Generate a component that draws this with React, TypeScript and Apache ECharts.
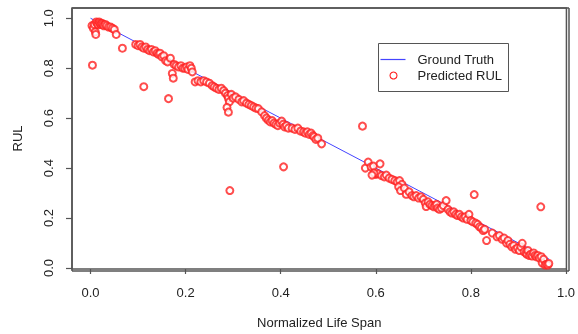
import React, { useEffect, useRef } from "react";
import * as echarts from "echarts";

const xTicks = [0, 0.2, 0.4, 0.6, 0.8, 1.0];
const yTicks = [0, 0.2, 0.4, 0.6, 0.8, 1.0];

const groundTruthX = [0, 0.965];
const groundTruthY = [1, 0.035];

const predicted: number[][] = [
  [0.003, 0.97], [0.006, 0.96], [0.008, 0.975], [0.010, 0.945], [0.011, 0.935], [0.012, 0.985], [0.014, 0.98],
  [0.016, 0.975], [0.018, 0.985], [0.020, 0.98], [0.022, 0.975], [0.024, 0.98], [0.026, 0.975], [0.028, 0.97],
  [0.031, 0.975], [0.034, 0.97], [0.038, 0.965], [0.042, 0.965], [0.046, 0.96], [0.050, 0.955], [0.054, 0.935],
  [0.004, 0.812], [0.067, 0.88],
  [0.095, 0.895], [0.100, 0.89], [0.104, 0.895], [0.108, 0.885], [0.112, 0.88], [0.116, 0.885], [0.120, 0.875],
  [0.124, 0.87], [0.128, 0.875], [0.132, 0.865], [0.136, 0.87], [0.140, 0.86], [0.143, 0.855], [0.146, 0.86],
  [0.150, 0.845], [0.154, 0.85], [0.158, 0.83], [0.162, 0.825], [0.112, 0.726], [0.164, 0.678], [0.172, 0.779],
  [0.174, 0.76], [0.168, 0.84],
  [0.176, 0.815], [0.180, 0.81], [0.185, 0.805], [0.190, 0.81], [0.194, 0.80], [0.198, 0.80], [0.202, 0.805],
  [0.205, 0.795], [0.209, 0.81], [0.212, 0.80], [0.214, 0.785],
  [0.220, 0.745], [0.226, 0.75], [0.232, 0.745], [0.238, 0.75], [0.244, 0.745], [0.250, 0.74], [0.256, 0.73],
  [0.260, 0.725], [0.265, 0.72], [0.270, 0.715], [0.275, 0.72], [0.280, 0.71], [0.284, 0.70], [0.288, 0.69],
  [0.290, 0.68], [0.292, 0.665], [0.287, 0.643], [0.290, 0.624], [0.296, 0.695], [0.293, 0.31],
  [0.300, 0.68], [0.305, 0.685], [0.312, 0.675], [0.318, 0.665], [0.322, 0.67], [0.328, 0.66], [0.333, 0.655],
  [0.338, 0.65], [0.343, 0.645], [0.348, 0.64], [0.353, 0.638], [0.360, 0.625], [0.366, 0.61], [0.370, 0.60],
  [0.374, 0.592], [0.378, 0.585], [0.382, 0.59], [0.386, 0.58], [0.390, 0.575], [0.394, 0.57], [0.398, 0.58],
  [0.402, 0.588], [0.405, 0.575], [0.408, 0.565], [0.412, 0.57], [0.416, 0.56], [0.406, 0.405],
  [0.424, 0.56], [0.430, 0.555], [0.436, 0.56], [0.442, 0.548], [0.448, 0.545], [0.452, 0.54], [0.456, 0.545],
  [0.460, 0.535], [0.464, 0.54], [0.468, 0.53], [0.470, 0.525], [0.474, 0.515], [0.478, 0.52], [0.486, 0.497],
  [0.572, 0.568], [0.578, 0.40], [0.584, 0.424], [0.590, 0.405], [0.595, 0.408], [0.600, 0.375], [0.604, 0.378],
  [0.609, 0.417], [0.596, 0.38], [0.592, 0.372], [0.612, 0.37], [0.618, 0.365], [0.622, 0.372], [0.628, 0.36],
  [0.634, 0.355], [0.640, 0.35], [0.645, 0.345], [0.650, 0.35], [0.655, 0.335], [0.648, 0.325], [0.652, 0.31],
  [0.660, 0.32], [0.664, 0.295], [0.670, 0.305], [0.676, 0.29], [0.680, 0.285], [0.685, 0.29], [0.690, 0.28],
  [0.695, 0.285], [0.700, 0.275], [0.704, 0.26], [0.706, 0.246], [0.710, 0.265], [0.714, 0.255], [0.718, 0.25],
  [0.722, 0.245], [0.725, 0.25], [0.728, 0.255], [0.730, 0.24], [0.734, 0.235], [0.738, 0.24], [0.742, 0.25],
  [0.748, 0.27], [0.752, 0.235], [0.756, 0.225], [0.760, 0.22], [0.764, 0.225], [0.768, 0.215], [0.772, 0.21],
  [0.776, 0.215], [0.780, 0.205], [0.784, 0.20], [0.788, 0.205], [0.792, 0.195], [0.796, 0.215], [0.800, 0.19],
  [0.804, 0.185], [0.807, 0.294], [0.810, 0.18], [0.814, 0.175], [0.818, 0.165], [0.822, 0.16], [0.826, 0.15],
  [0.829, 0.155], [0.833, 0.11],
  [0.845, 0.14], [0.855, 0.125], [0.860, 0.13], [0.866, 0.115], [0.870, 0.12], [0.875, 0.10], [0.878, 0.11],
  [0.882, 0.095], [0.886, 0.085], [0.890, 0.09], [0.894, 0.075], [0.898, 0.08], [0.902, 0.07], [0.905, 0.085],
  [0.908, 0.099], [0.912, 0.065], [0.916, 0.06], [0.918, 0.055], [0.920, 0.07], [0.923, 0.05], [0.926, 0.055],
  [0.929, 0.048], [0.932, 0.06], [0.935, 0.05], [0.938, 0.045], [0.941, 0.05], [0.944, 0.04], [0.947, 0.245],
  [0.948, 0.045], [0.950, 0.02], [0.953, 0.035], [0.956, 0.012], [0.959, 0.015], [0.962, 0.012], [0.964, 0.018],
];

const FONT = "'Liberation Sans', Arial, Helvetica, sans-serif";
const AXIS_COLOR = "#555";
const FRAME = { x0: 72, y0: 8, x1: 569, y1: 271 };

const frameLine = (x1: number, y1: number, x2: number, y2: number) => ({
  type: "line",
  shape: { x1, y1, x2, y2 },
  style: { stroke: "#555555", lineWidth: 1.5 },
  silent: true,
  z: 15,
});

export default function App() {
  const ref = useRef<HTMLDivElement>(null);

  useEffect(() => {
    if (!ref.current) return;
    const chart = echarts.init(ref.current, undefined, { renderer: "svg" });
    chart.setOption({
      animation: false,
      grid: {
        left: 72,
        right: 9,
        top: 8,
        bottom: 63,
        show: true,
        borderColor: "#555555",
        borderWidth: 1.5,
      },
      xAxis: {
        type: "value",
        min: -0.039,
        max: 1.001,
        name: "Normalized Life Span",
        nameLocation: "middle",
        nameGap: 47,
        nameTextStyle: { fontFamily: FONT, fontSize: 13, color: "#222" },
        axisLine: { show: false, onZero: false },
        splitLine: { show: false },
        axisTick: {
          show: true,
          inside: false,
          length: 5,
          customValues: xTicks,
          lineStyle: { color: AXIS_COLOR, width: 1.2 },
        },
        axisLabel: {
          customValues: xTicks,
          margin: 17,
          fontFamily: FONT,
          fontSize: 13,
          color: "#222",
          formatter: (v: number) => v.toFixed(1),
        },
      },
      yAxis: {
        type: "value",
        min: -0.004,
        max: 1.041,
        name: "RUL",
        nameLocation: "middle",
        nameGap: 48,
        nameRotate: 90,
        nameTextStyle: { fontFamily: FONT, fontSize: 13, color: "#222" },
        axisLine: { show: false, onZero: false },
        splitLine: { show: false },
        axisTick: {
          show: true,
          inside: false,
          length: 6,
          customValues: yTicks,
          lineStyle: { color: AXIS_COLOR, width: 1.2 },
        },
        axisLabel: {
          customValues: yTicks,
          rotate: 90,
          margin: 17,
          fontFamily: FONT,
          fontSize: 13,
          color: "#222",
          formatter: (v: number) => v.toFixed(1),
        },
      },
      series: [
        {
          type: "line",
          name: "Ground Truth",
          data: groundTruthX.map((x, i) => [x, groundTruthY[i]]),
          showSymbol: false,
          symbol: "none",
          lineStyle: { color: "#4444ff", width: 1 },
          z: 1,
        },
        {
          type: "scatter",
          name: "Predicted RUL",
          data: predicted,
          symbol: "emptyCircle",
          symbolSize: 7,
          itemStyle: { color: "#ff2020", borderColor: "#ff2020", borderWidth: 0.8 },
          z: 2,
        },
      ],
      graphic: [
        frameLine(FRAME.x0, FRAME.y0, FRAME.x1, FRAME.y0),
        frameLine(FRAME.x0, FRAME.y1, FRAME.x1, FRAME.y1),
        frameLine(FRAME.x0, FRAME.y0, FRAME.x0, FRAME.y1),
        frameLine(FRAME.x1, FRAME.y0, FRAME.x1, FRAME.y1),
        {
          type: "group",
          left: 378,
          top: 43,
          z: 20,
          children: [
            {
              type: "rect",
              shape: { x: 0, y: 0, width: 130, height: 48 },
              style: { fill: "#fff", stroke: AXIS_COLOR, lineWidth: 1 },
            },
            {
              type: "line",
              shape: { x1: 2, y1: 16, x2: 27, y2: 16 },
              style: { stroke: "#4444ff", lineWidth: 1.2 },
            },
            {
              type: "circle",
              shape: { cx: 15, cy: 32, r: 3.5 },
              style: { fill: "transparent", stroke: "#ff2020", lineWidth: 1.1 },
            },
            {
              type: "text",
              x: 39,
              y: 16,
              style: {
                text: "Ground Truth",
                fontFamily: FONT,
                fontSize: 13,
                fill: "#222",
                verticalAlign: "middle",
              },
            },
            {
              type: "text",
              x: 39,
              y: 32,
              style: {
                text: "Predicted RUL",
                fontFamily: FONT,
                fontSize: 13,
                fill: "#222",
                verticalAlign: "middle",
              },
            },
          ],
        },
      ],
    });
    return () => chart.dispose();
  }, []);

  return (
    <div
      ref={ref}
      style={{ position: "fixed", left: 0, top: 0, width: 578, height: 334 }}
    />
  );
}
